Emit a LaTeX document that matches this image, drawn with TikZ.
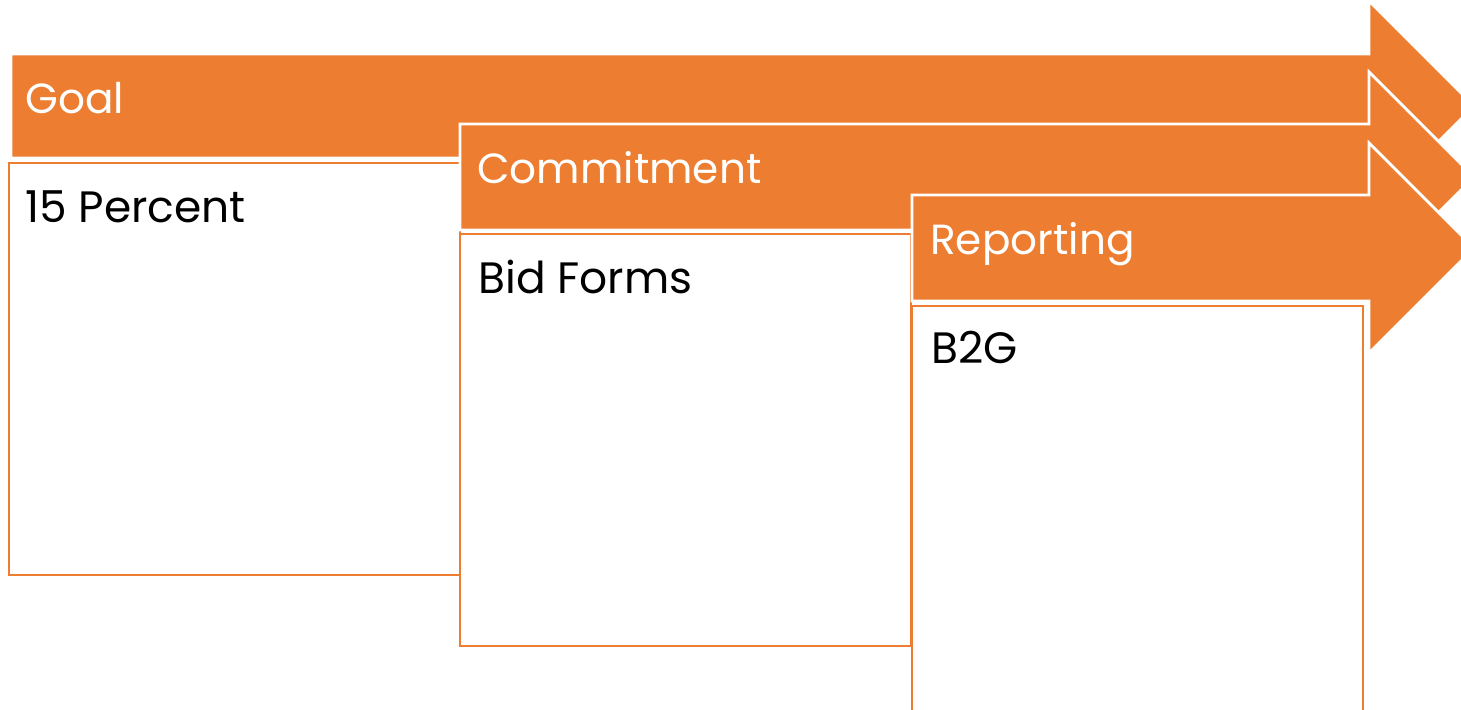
\documentclass[tikz,border=0pt]{standalone}
\usepackage{fontspec}
\setmainfont{Poppins}
\definecolor{stageorange}{RGB}{237,125,49}
\tikzset{
	stagearrow/.style={fill=stageorange, draw=white, line width=1.6pt},
	stagebox/.style={fill=white, draw=stageorange, line width=1.4pt},
	headtext/.style={text=white, anchor=base west, inner sep=0pt, font=\fontsize{24}{29}\selectfont},
	bodytext/.style={text=black, anchor=base west, inner sep=0pt, font=\fontsize{25}{30}\selectfont}
}

\begin{document}
\begin{tikzpicture}[x=0.02cm, y=-0.02cm]
				\clip (0,0) rectangle (1461,710);
				
				% goal
				\draw[stagearrow] (11,54) -- (1369,54) -- (1369,1) -- (1474,106) -- (1369,211) -- (1369,158) -- (11,158) -- cycle;
				\draw[stagebox] (9,163) rectangle (460,575);
				\node[headtext] (goal) at (25,113) {Goal};
				\node[bodytext] (percent) at (25,222) {15 Percent};
				
				% commitment
				\draw[stagearrow] (460,124) -- (1369,124) -- (1369,72) -- (1474,177) -- (1369,282) -- (1369,230) -- (460,230) -- cycle;
				\draw[stagebox] (460,234) rectangle (911,646);
				\node[headtext] (commit) at (477,183) {Commitment};
				\node[bodytext] (bidforms) at (478,293) {Bid Forms};
				
				% reporting
				\draw[stagearrow] (912,195) -- (1369,195) -- (1369,143) -- (1474,248) -- (1369,353) -- (1369,301) -- (912,301) -- cycle;
				\draw[stagebox] (912,306) rectangle (1363,720);
				\node[headtext] (report) at (930,254) {Reporting};
				\node[bodytext] (btwog) at (931,363) {B2G};
			\end{tikzpicture}
\end{document}
